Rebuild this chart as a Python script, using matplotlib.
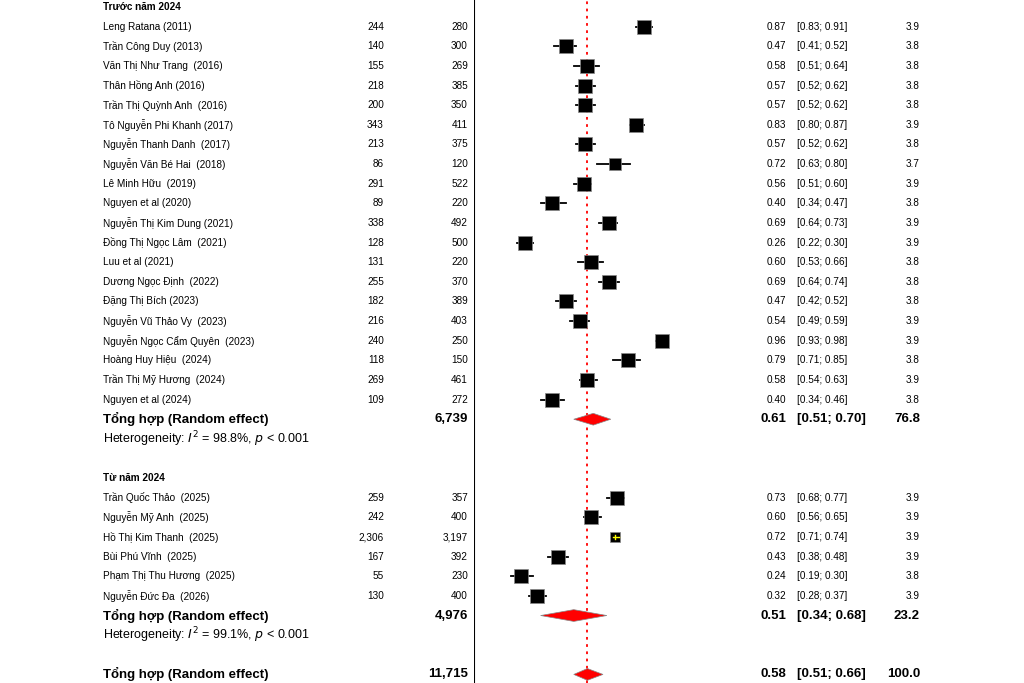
import matplotlib
matplotlib.use("Agg")
import matplotlib.pyplot as plt
from matplotlib.patches import Polygon

plt.rcParams['font.family'] = ['Liberation Sans', 'DejaVu Sans']

g1_names = ["Leng Ratana (2011)", "Trần Công Duy (2013)", "Văn Thị Như Trang  (2016)", "Thân Hồng Anh (2016)",
            "Trần Thị Quỳnh Anh  (2016)", "Tô Nguyễn Phi Khanh (2017)", "Nguyễn Thanh Danh  (2017)",
            "Nguyễn Văn Bé Hai  (2018)", "Lê Minh Hữu  (2019)", "Nguyen et al (2020)", "Nguyễn Thị Kim Dung (2021)",
            "Đồng Thị Ngọc Lâm  (2021)", "Luu et al (2021)", "Dương Ngọc Định  (2022)", "Đặng Thị Bích (2023)",
            "Nguyễn Vũ Thảo Vy  (2023)", "Nguyễn Ngọc Cẩm Quyên  (2023)", "Hoàng Huy Hiệu  (2024)",
            "Trần Thị Mỹ Hương  (2024)", "Nguyen et al (2024)"]
g1_events = [244, 140, 155, 218, 200, 343, 213, 86, 291, 89, 338, 128, 131, 255, 182, 216, 240, 118, 269, 109]
g1_total = [280, 300, 269, 385, 350, 411, 375, 120, 522, 220, 492, 500, 220, 370, 389, 403, 250, 150, 461, 272]
g1_est = [0.87, 0.47, 0.58, 0.57, 0.57, 0.83, 0.57, 0.72, 0.56, 0.40, 0.69, 0.26, 0.60, 0.69, 0.47, 0.54, 0.96, 0.79, 0.58, 0.40]
g1_lo = [0.83, 0.41, 0.51, 0.52, 0.52, 0.80, 0.52, 0.63, 0.51, 0.34, 0.64, 0.22, 0.53, 0.64, 0.42, 0.49, 0.93, 0.71, 0.54, 0.34]
g1_hi = [0.91, 0.52, 0.64, 0.62, 0.62, 0.87, 0.62, 0.80, 0.60, 0.47, 0.73, 0.30, 0.66, 0.74, 0.52, 0.59, 0.98, 0.85, 0.63, 0.46]
g1_w = [3.9, 3.8, 3.8, 3.8, 3.8, 3.9, 3.8, 3.7, 3.9, 3.8, 3.9, 3.9, 3.8, 3.8, 3.8, 3.9, 3.9, 3.8, 3.9, 3.8]

g2_names = ["Trần Quốc Thảo  (2025)", "Nguyễn Mỹ Anh  (2025)", "Hồ Thị Kim Thanh  (2025)", "Bùi Phú Vĩnh  (2025)",
            "Phạm Thị Thu Hương  (2025)", "Nguyễn Đức Đa  (2026)"]
g2_events = [259, 242, 2306, 167, 55, 130]
g2_total = [357, 400, 3197, 392, 230, 400]
g2_est = [0.73, 0.60, 0.72, 0.43, 0.24, 0.32]
g2_lo = [0.68, 0.56, 0.71, 0.38, 0.19, 0.28]
g2_hi = [0.77, 0.65, 0.74, 0.48, 0.30, 0.37]
g2_w = [3.9, 3.9, 3.9, 3.9, 3.8, 3.9]

pooled_est = [0.61, 0.51, 0.58]
pooled_lo = [0.51, 0.34, 0.51]
pooled_hi = [0.70, 0.68, 0.66]
pooled_n = ["6,739", "4,976", "11,715"]
pooled_w = ["76.8", "23.2", "100.0"]
het_i2 = ["98.8%", "99.1%"]
overall_ref = 0.58

W, H = 1024, 683
fig = plt.figure(figsize=(W / 100, H / 100), dpi=100)
ymax = (H - 7) / 19.63
ymin = -7 / 19.63
tax = fig.add_axes([0, 0, 1, 1])
tax.set_xlim(0, W)
tax.set_ylim(ymax, ymin)
tax.axis('off')
x0 = 474.3
scale = 195.0
fax = fig.add_axes([x0 / W, 0, (W - x0) / W, 1])
fax.set_xlim(0, (W - x0) / scale)
fax.set_ylim(ymax, ymin)
fax.axis('off')
fax.patch.set_alpha(0)

fs = 7.2
def study_rows(names, ev, tot, est, lo, hi, w, start):
    for i in range(len(names)):
        r = start + i
        tax.text(103, r, names[i], fontsize=fs, va='center', ha='left')
        tax.text(384, r, f"{ev[i]:,}", fontsize=fs, va='center', ha='right')
        tax.text(468, r, f"{tot[i]:,}", fontsize=fs, va='center', ha='right')
        tax.text(786, r, f"{est[i]:.2f}", fontsize=fs, va='center', ha='right')
        tax.text(797, r, f"[{lo[i]:.2f}; {hi[i]:.2f}]", fontsize=fs, va='center', ha='left')
        tax.text(920, r, f"{w[i]:.1f}", fontsize=fs, va='center', ha='right')
        fax.plot([lo[i], hi[i]], [r, r], color='black', lw=1.3, zorder=3)
        ms = 4.0 * w[i] - 5.8 + (-2.0 if names[i].startswith("Hồ") else 0)
        fax.plot(est[i], r, marker='s', color='black', ms=ms, mec='#888888', mew=0.5, zorder=4)
        if names[i].startswith("Hồ"):
            fax.plot([lo[i], hi[i]], [r, r], color='yellow', lw=1.0, zorder=5)
            fax.plot([est[i]] * 2, [r - 0.12, r + 0.12], color='yellow', lw=1.0, zorder=5)

def pooled(k, r):
    tax.text(103, r, "Tổng hợp (Random effect)", fontsize=9.5, fontweight='bold', va='center')
    tax.text(468, r, pooled_n[k], fontsize=9.5, fontweight='bold', va='center', ha='right')
    tax.text(786, r, f"{pooled_est[k]:.2f}", fontsize=9.5, fontweight='bold', va='center', ha='right')
    tax.text(797, r, f"[{pooled_lo[k]:.2f}; {pooled_hi[k]:.2f}]", fontsize=9.5, fontweight='bold', va='center')
    tax.text(920, r, pooled_w[k], fontsize=9.5, fontweight='bold', va='center', ha='right')
    fax.add_patch(Polygon([(pooled_lo[k], r), (pooled_est[k], r - 0.3), (pooled_hi[k], r), (pooled_est[k], r + 0.3)],
                          closed=True, fc='red', ec='#888888', lw=0.5, zorder=4))

tax.text(103, 0, "Trước năm 2024", fontsize=fs, fontweight='bold', va='center')
study_rows(g1_names, g1_events, g1_total, g1_est, g1_lo, g1_hi, g1_w, 1)
pooled(0, 21)
tax.text(103, 22, "Heterogeneity: $I^2$ = " + het_i2[0] + ", $p$ < 0.001", fontsize=9, va='center')
tax.text(103, 24, "Từ năm 2024", fontsize=fs, fontweight='bold', va='center')
study_rows(g2_names, g2_events, g2_total, g2_est, g2_lo, g2_hi, g2_w, 25)
pooled(1, 31)
tax.text(103, 32, "Heterogeneity: $I^2$ = " + het_i2[1] + ", $p$ < 0.001", fontsize=9, va='center')
pooled(2, 34)

fax.axvline(0, color='black', lw=1.5, zorder=2)
fax.axvline(overall_ref, color='red', lw=1.3, ls=(0, (1.5, 2.5)), zorder=2)

fig.savefig("out.png", dpi=100)
